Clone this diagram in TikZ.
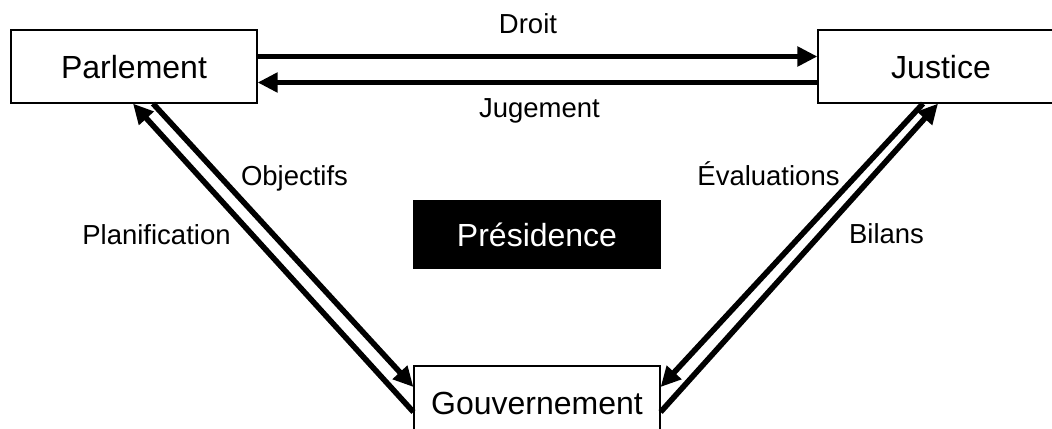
\documentclass[tikz,border=0pt]{standalone}
\usepackage{fontspec}
\setmainfont{Liberation Sans}
\usetikzlibrary{arrows.meta}
\begin{document}
\begin{tikzpicture}[x=0.5pt,y=0.5pt,yscale=-1,
	organe/.style={draw, line width=0.6pt, minimum width=123pt, minimum height=36.5pt, inner sep=0pt, text height=11.5pt, text depth=0pt, font=\fontsize{16}{19}\selectfont},
	flux/.style={line width=2.8pt, -{Triangle[length=10pt,width=9.5pt]}},
	etiquette/.style={anchor=base, inner sep=0pt, font=\fontsize{13.75}{16}\selectfont}]
	\useasboundingbox (0,0) rectangle (1052,428);
	
	%Shape: Rectangle [id:parl] 
	\node [organe] (parl) at (134,66.5) {Parlement};
	%Shape: Rectangle [id:just] 
	\node [organe] (just) at (941,66.5) {Justice};
	%Shape: Rectangle [id:gouv] 
	\node [organe] (gouv) at (537,402.5) {Gouvernement};
	%Shape: Rectangle [id:pres] 
	\node [organe, fill=black, text=white, minimum height=33.5pt] (pres) at (537,234.5) {Présidence};
	
	%Straight Lines [id:droit] 
	\draw [flux] ([yshift=-5pt]parl.east) -- ([yshift=-5pt]just.west);
	%Straight Lines [id:jugement] 
	\draw [flux] ([yshift=8pt]just.west) -- ([yshift=8pt]parl.east);
	%Straight Lines [id:planification] 
	\draw [flux] ([yshift=4.75pt]gouv.west) -- ([xshift=-0.5pt]parl.south);
	%Straight Lines [id:objectifs] 
	\draw [flux] ([xshift=9.5pt]parl.south) -- ([yshift=-7.75pt]gouv.west);
	%Straight Lines [id:evaluations] 
	\draw [flux] ([xshift=-9pt]just.south) -- ([yshift=-7.75pt]gouv.east);
	%Straight Lines [id:bilans] 
	\draw [flux] ([yshift=4.75pt]gouv.east) -- ([xshift=-1.5pt]just.south);
	
	% Text Node
	\node [etiquette] (tdroit) at (528,33) {Droit};
	% Text Node
	\node [etiquette] (tjug) at (539.5,117) {Jugement};
	% Text Node
	\node [etiquette] (tobj) at (294.5,185) {Objectifs};
	% Text Node
	\node [etiquette] (tplan) at (156.5,244) {Planification};
	% Text Node
	\node [etiquette] (teval) at (768.5,185) {Évaluations};
	% Text Node
	\node [etiquette] (tbil) at (886.5,243) {Bilans};
	
\end{tikzpicture}
\end{document}
